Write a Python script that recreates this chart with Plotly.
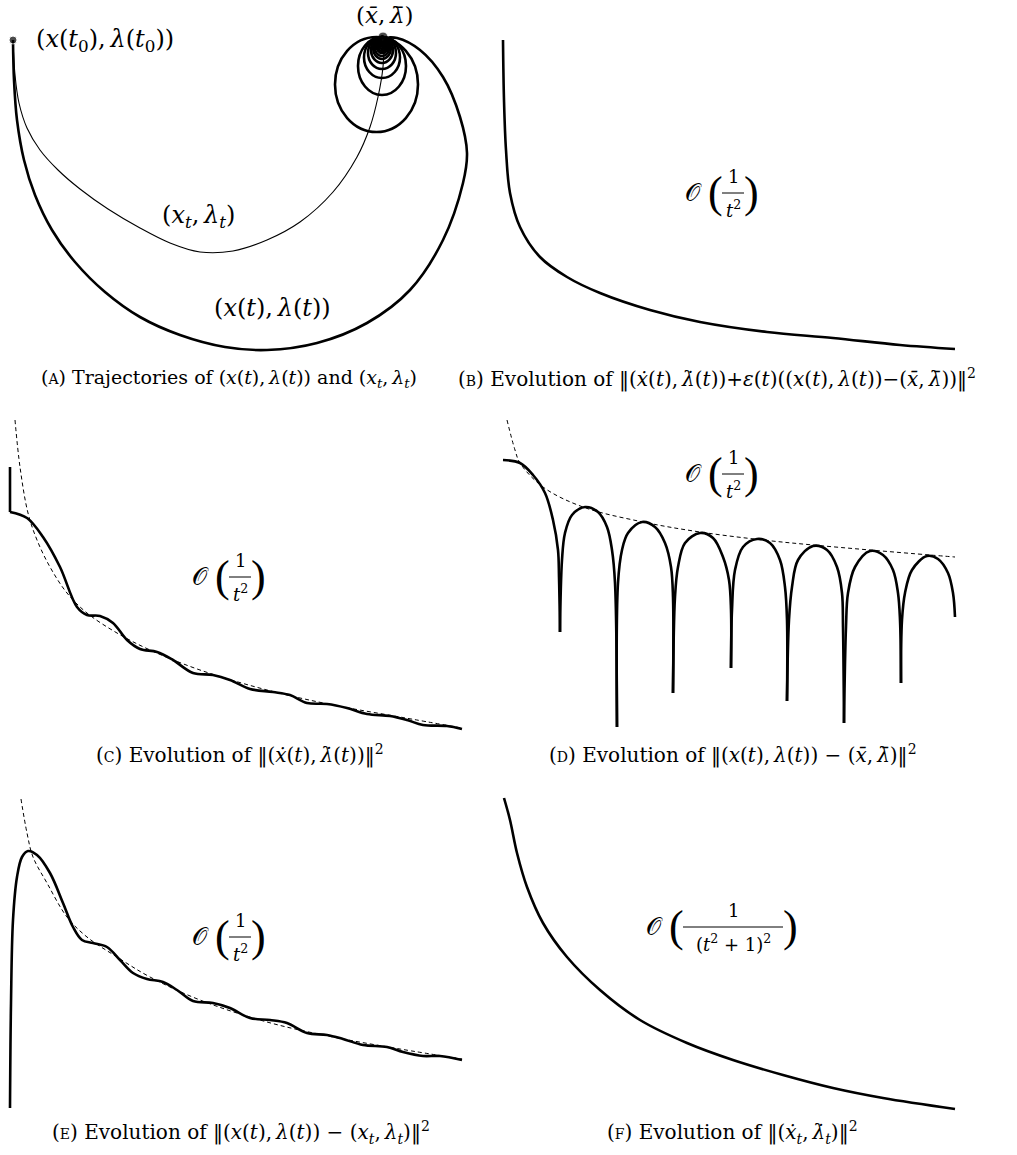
import plotly.graph_objects as go

W, H = 1017, 1155
INK = "black"
SERIF = "DejaVu Serif, Liberation Serif, serif"
LIGHT = "Liberation Serif, serif"
THICK = 2.6
THIN = 1.1
TS = "\u2009"  # thin space, stands in for TeX math spacing
NORM = "‖"

# panel boxes in page pixels: left, right, top, bottom
PANELS = {
    "a": (0, 500, 0, 375),
    "b": (500, 1017, 0, 375),
    "c": (0, 500, 390, 750),
    "d": (500, 1017, 390, 750),
    "e": (0, 500, 770, 1120),
    "f": (500, 1017, 770, 1120),
}

# (A) trajectories
a_outer_x = [13, 14, 17, 24, 35, 52, 75, 105, 140, 180, 225, 267, 317, 367, 410, 443, 463, 467, 460, 443, 420, 397, 383]
a_outer_y = [40, 80, 120, 160, 195, 230, 262, 292, 317, 335, 347, 350, 343, 323, 290, 240, 183, 153, 117, 77, 50, 38, 38]
a_inner_x = [13, 15, 19, 27, 40, 58, 80, 108, 140, 170, 200, 233, 267, 300, 333, 357, 370, 378, 383, 384]
a_inner_y = [40, 75, 103, 128, 150, 170, 189, 209, 228, 243, 252, 251, 240, 222, 192, 157, 127, 97, 67, 40]
loop_left = [335, 358, 364, 368, 371, 373, 374.5, 376, 377, 378, 379, 380, 381, 381.5]
loop_right = [418, 406, 400, 396, 393, 391, 389.5, 388.5, 387.5, 386.5, 386, 385.5, 385, 384.5]
loop_bottom = [132, 95, 78, 69, 63, 59, 56, 53, 51, 49, 47, 45.5, 44, 42.5]
loop_top = 37

# (B)
b_x = [503, 504, 506, 510, 520, 540, 567, 600, 650, 700, 767, 833, 900, 955]
b_y = [40, 100, 150, 193, 227, 257, 277, 293, 310, 322, 332, 338, 345, 349]

# (C)
c_x = [10, 10, None, 10, 27, 43, 60, 77, 87, 100, 113, 127, 140, 157, 173, 193, 213, 230, 250,
       273, 290, 307, 327, 347, 367, 390, 407, 423, 447, 462]
c_y = [467, 512, None, 512, 518, 537, 567, 607, 615, 616, 623, 640, 649, 652, 660, 673, 675, 680, 689,
       692, 695, 703, 704, 708, 714, 716, 720, 725, 726, 729]
c_ref_x = [15, 20, 28, 37, 50, 67, 87, 117, 150, 200, 267, 333, 400, 462]
c_ref_y = [420, 467, 513, 540, 567, 593, 613, 633, 650, 670, 690, 705, 717, 728]

# (D) arches split at the cusps
d_x = [503, 520, 533, 545, 553, 558, 559, 560, None,
       560, 562, 565, 572, 585, 598, 607, 612, 615, 617, None,
       617, 618, 622, 628, 642, 655, 665, 671, 673, 673, None,
       673, 675, 678, 685, 700, 713, 723, 729, 731, 731, None,
       731, 732, 735, 743, 757, 770, 780, 785, 787, 787, None,
       787, 789, 792, 798, 813, 827, 837, 842, 843, 844, None,
       844, 846, 848, 855, 870, 883, 893, 898, 900, 901, None,
       901, 902, 905, 912, 927, 938, 948, 953, 955]
d_y = [460, 463, 475, 493, 520, 550, 577, 632, None,
       632, 560, 533, 515, 507, 512, 527, 550, 583, 727, None,
       727, 583, 550, 533, 522, 527, 543, 567, 597, 693, None,
       693, 597, 567, 543, 533, 538, 557, 580, 610, 668, None,
       668, 610, 570, 547, 539, 543, 560, 587, 620, 701, None,
       701, 620, 587, 560, 546, 550, 567, 593, 627, 723, None,
       723, 627, 593, 567, 551, 555, 570, 593, 620, 683, None,
       683, 620, 593, 570, 556, 559, 573, 593, 617]
d_ref_x = [507, 515, 520, 543, 583, 643, 700, 763, 813, 870, 930, 955]
d_ref_y = [420, 450, 463, 487, 507, 522, 532, 540, 545, 550, 555, 557]

# (E)
e_x = [10, 11, 13, 17, 22, 28, 37, 50, 63, 73, 82, 93, 107, 120, 133, 147, 163, 177, 193, 213,
       230, 250, 270, 287, 307, 327, 343, 363, 387, 403, 423, 440, 462]
e_y = [1108, 1003, 920, 877, 857, 851, 855, 873, 903, 927, 940, 943, 947, 960, 973, 979, 982, 990,
       1001, 1003, 1008, 1018, 1020, 1023, 1033, 1035, 1039, 1045, 1047, 1052, 1056, 1056, 1060]
e_ref_x = [21, 27, 33, 47, 67, 87, 117, 150, 200, 267, 333, 400, 462]
e_ref_y = [799, 833, 857, 883, 917, 937, 957, 977, 1000, 1022, 1037, 1049, 1059]

# (F)
f_x = [504, 510, 517, 527, 543, 567, 600, 640, 687, 733, 783, 833, 883, 955]
f_y = [798, 820, 853, 887, 923, 957, 990, 1020, 1043, 1060, 1075, 1088, 1098, 1109]

SC = "<span style='font-size:14px'>{}</span>"
CAPTIONS = {
    "a": f"({SC.format('A')}) Trajectories of (<i>x</i>(<i>t</i>),{TS}<i>λ</i>(<i>t</i>)) and "
         f"(<i>x</i><sub><i>t</i></sub>,{TS}<i>λ</i><sub><i>t</i></sub>)",
    "b": f"({SC.format('B')}) Evolution of {NORM}(<i>ẋ</i>(<i>t</i>),{TS}<i>λ̇</i>(<i>t</i>))+<i>ε</i>(<i>t</i>)"
         f"((<i>x</i>(<i>t</i>),{TS}<i>λ</i>(<i>t</i>))−(<i>x̄</i>,{TS}<i>λ̄</i>)){NORM}<sup>2</sup>",
    "c": f"({SC.format('C')}) Evolution of {NORM}(<i>ẋ</i>(<i>t</i>),{TS}<i>λ̇</i>(<i>t</i>)){NORM}<sup>2</sup>",
    "d": f"({SC.format('D')}) Evolution of {NORM}(<i>x</i>(<i>t</i>),{TS}<i>λ</i>(<i>t</i>)) − "
         f"(<i>x̄</i>,{TS}<i>λ̄</i>){NORM}<sup>2</sup>",
    "e": f"({SC.format('E')}) Evolution of {NORM}(<i>x</i>(<i>t</i>),{TS}<i>λ</i>(<i>t</i>)) − "
         f"(<i>x</i><sub><i>t</i></sub>,{TS}<i>λ</i><sub><i>t</i></sub>){NORM}<sup>2</sup>",
    "f": f"({SC.format('F')}) Evolution of {NORM}(<i>ẋ</i><sub><i>t</i></sub>,{TS}"
         f"<i>λ̇</i><sub><i>t</i></sub>){NORM}<sup>2</sup>",
}
CAPTION_POS = {"a": (229, 379), "b": (717, 379), "c": (240, 754), "d": (733, 754),
               "e": (241, 1132), "f": (732, 1132)}
CAPTION_SIZE = {"a": 19, "b": 20, "c": 20, "d": 20, "e": 20, "f": 20}

fig = go.Figure()
axis_ids = {}
for i, (key, (x0, x1, y0, y1)) in enumerate(PANELS.items(), start=1):
    sfx = "" if i == 1 else str(i)
    axis_ids[key] = ("x" + sfx, "y" + sfx)
    fig.layout["xaxis" + sfx] = dict(domain=[x0 / W, x1 / W], range=[x0, x1], visible=False,
                                     anchor="y" + sfx, fixedrange=True)
    fig.layout["yaxis" + sfx] = dict(domain=[1 - y1 / H, 1 - y0 / H], range=[y1, y0], visible=False,
                                     anchor="x" + sfx, fixedrange=True)


def add_line(key, xs, ys, width=THICK, dash=None, shape="spline"):
    xa, ya = axis_ids[key]
    fig.add_trace(go.Scatter(x=xs, y=ys, mode="lines", xaxis=xa, yaxis=ya, hoverinfo="skip",
                             showlegend=False,
                             line=dict(color=INK, width=width, dash=dash, shape=shape)))


def add_text(key, x, y, text, size=20, family=SERIF):
    xa, ya = axis_ids[key]
    fig.add_annotation(x=x, y=y, xref=xa, yref=ya, text=text, showarrow=False,
                       font=dict(family=family, size=size, color=INK))


def big_o(key, cx, cy, denom, half):
    xa, ya = axis_ids[key]
    add_text(key, cx - half - 29, cy, "𝒪", 24, LIGHT)
    add_text(key, cx - half - 7, cy - 1, "(", 44, LIGHT)
    add_text(key, cx + half + 7, cy - 1, ")", 44, LIGHT)
    add_text(key, cx, cy - 17, "1", 18)
    add_text(key, cx, cy + 16, denom, 18)
    fig.add_shape(type="line", xref=xa, yref=ya, x0=cx - half, x1=cx + half, y0=cy, y1=cy,
                  line=dict(color=INK, width=1))


# (A)
add_line("a", a_inner_x, a_inner_y, width=THIN)
add_line("a", a_outer_x, a_outer_y)
xa, ya = axis_ids["a"]
for l, r, b in zip(loop_left, loop_right, loop_bottom):
    fig.add_shape(type="circle", xref=xa, yref=ya, x0=l, x1=r, y0=loop_top, y1=b,
                  line=dict(color=INK, width=THICK))
fig.add_trace(go.Scatter(x=[a_outer_x[0], a_outer_x[-1]], y=[a_outer_y[0], loop_top], mode="markers",
                         xaxis=xa, yaxis=ya, hoverinfo="skip", showlegend=False,
                         marker=dict(color=INK, size=[8, 10])))
add_text("a", 105, 40, f"(<i>x</i>(<i>t</i><sub>0</sub>),{TS}<i>λ</i>(<i>t</i><sub>0</sub>))", 24)
add_text("a", 384, 15, f"(<i>x̄</i>,{TS}<i>λ̄</i>)", 23)
add_text("a", 198, 216, f"(<i>x</i><sub><i>t</i></sub>,{TS}<i>λ</i><sub><i>t</i></sub>)", 24)
add_text("a", 272, 308, f"(<i>x</i>(<i>t</i>),{TS}<i>λ</i>(<i>t</i>))", 24)

# (B)
add_line("b", b_x, b_y)
big_o("b", 733, 193, "<i>t</i><sup>2</sup>", 11)

# (C)
add_line("c", c_ref_x, c_ref_y, width=1, dash="4px,3px")
add_line("c", c_x, c_y)
big_o("c", 240, 577, "<i>t</i><sup>2</sup>", 11)

# (D)
add_line("d", d_ref_x, d_ref_y, width=1, dash="4px,3px")
add_line("d", d_x, d_y)
big_o("d", 733, 474, "<i>t</i><sup>2</sup>", 11)

# (E)
add_line("e", e_ref_x, e_ref_y, width=1, dash="4px,3px")
add_line("e", e_x, e_y)
big_o("e", 240, 937, "<i>t</i><sup>2</sup>", 11)

# (F)
add_line("f", f_x, f_y)
big_o("f", 733, 927, "(<i>t</i><sup>2</sup> + 1)<sup>2</sup>", 50)

for key, text in CAPTIONS.items():
    px, py = CAPTION_POS[key]
    fig.add_annotation(x=px / W, y=1 - py / H, xref="paper", yref="paper", text=text, showarrow=False,
                       xanchor="center", yanchor="middle",
                       font=dict(family=SERIF, size=CAPTION_SIZE[key], color=INK))

fig.update_layout(width=W, height=H, margin=dict(l=0, r=0, t=0, b=0),
                  paper_bgcolor="white", plot_bgcolor="white", showlegend=False)

# drop the browser's default 8px body margin so the figure sits at the page origin
fig.write_html("out.html", config={"displayModeBar": False},
               post_script="document.body.style.margin = '0px';")
